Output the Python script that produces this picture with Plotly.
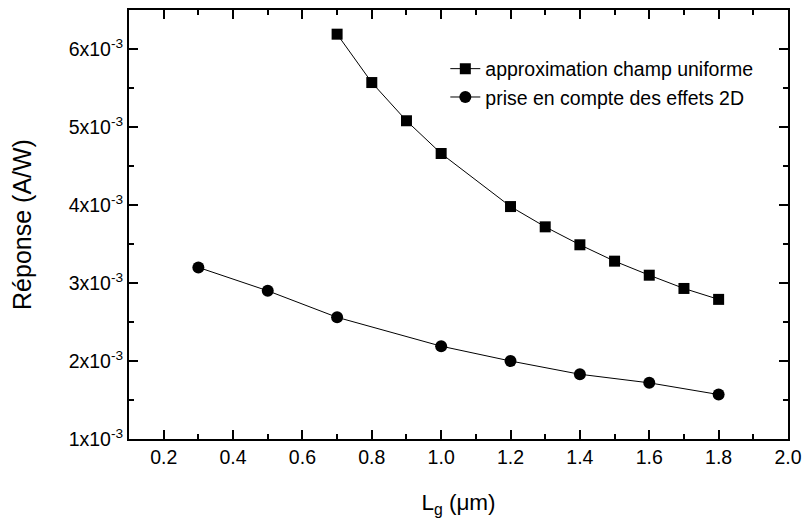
import plotly.graph_objects as go

# Data
lg_uniform = [0.7, 0.8, 0.9, 1.0, 1.2, 1.3, 1.4, 1.5, 1.6, 1.7, 1.8]
rep_uniform = [6.19e-3, 5.57e-3, 5.08e-3, 4.66e-3, 3.98e-3, 3.72e-3, 3.49e-3, 3.28e-3, 3.10e-3, 2.93e-3, 2.79e-3]

lg_2d = [0.3, 0.5, 0.7, 1.0, 1.2, 1.4, 1.6, 1.8]
rep_2d = [3.20e-3, 2.90e-3, 2.56e-3, 2.19e-3, 2.00e-3, 1.83e-3, 1.72e-3, 1.57e-3]

name_uniform = "approximation champ uniforme"
name_2d = "prise en compte des effets 2D"

x_tickvals = [0.2, 0.4, 0.6, 0.8, 1.0, 1.2, 1.4, 1.6, 1.8, 2.0]
x_ticktext = ["0.2", "0.4", "0.6", "0.8", "1.0", "1.2", "1.4", "1.6", "1.8", "2.0"]
y_tickvals = [1e-3, 2e-3, 3e-3, 4e-3, 5e-3, 6e-3]
y_ticktext = ["1x10<sup>-3</sup>", "2x10<sup>-3</sup>", "3x10<sup>-3</sup>",
              "4x10<sup>-3</sup>", "5x10<sup>-3</sup>", "6x10<sup>-3</sup>"]

FONT = "Liberation Sans, Arial, sans-serif"

fig = go.Figure()
fig.add_trace(go.Scatter(
    x=lg_uniform, y=rep_uniform, name=name_uniform, mode="lines+markers",
    line=dict(color="black", width=1),
    marker=dict(symbol="square", size=11, color="black"),
))
fig.add_trace(go.Scatter(
    x=lg_2d, y=rep_2d, name=name_2d, mode="lines+markers",
    line=dict(color="black", width=1),
    marker=dict(symbol="circle", size=12, color="black"),
))

axis_common = dict(
    showline=True, linecolor="black", linewidth=2, mirror="ticks",
    ticks="inside", ticklen=9, tickwidth=1.5, tickcolor="black",
    showgrid=False, zeroline=False,
    tickfont=dict(family=FONT, size=19.5, color="black"),
)

fig.update_xaxes(
    **axis_common,
    range=[0.1, 2.0], tickvals=x_tickvals, ticktext=x_ticktext,
    minor=dict(ticks="inside", ticklen=5, tickwidth=1.5, tickcolor="black", dtick=0.1, tick0=0.1, showgrid=False),
    title=dict(text="L<sub>g</sub> (\u03bcm)", font=dict(family=FONT, size=22.5, color="black"), standoff=27),
)
fig.update_yaxes(
    **axis_common,
    range=[1e-3, 6.5e-3], tickvals=y_tickvals, ticktext=y_ticktext,
    minor=dict(ticks="inside", ticklen=5, tickwidth=1.5, tickcolor="black", dtick=0.5e-3, tick0=1e-3, showgrid=False),
    title=dict(text="Réponse (A/W)", font=dict(family=FONT, size=25, color="black"), standoff=30),
)

fig.update_layout(
    width=810, height=523,
    margin=dict(l=129, r=16, t=8, b=84),
    paper_bgcolor="white", plot_bgcolor="white",
    font=dict(family=FONT, color="black"),
    showlegend=True,
    legend=dict(
        x=0.48, y=0.908, xanchor="left", yanchor="top",
        bgcolor="rgba(0,0,0,0)", borderwidth=0,
        font=dict(family=FONT, size=19.5, color="black"),
        tracegroupgap=0,
    ),
)

fig.write_html("out.html", config={"displayModeBar": False},
               post_script="document.body.style.margin='0px';")
